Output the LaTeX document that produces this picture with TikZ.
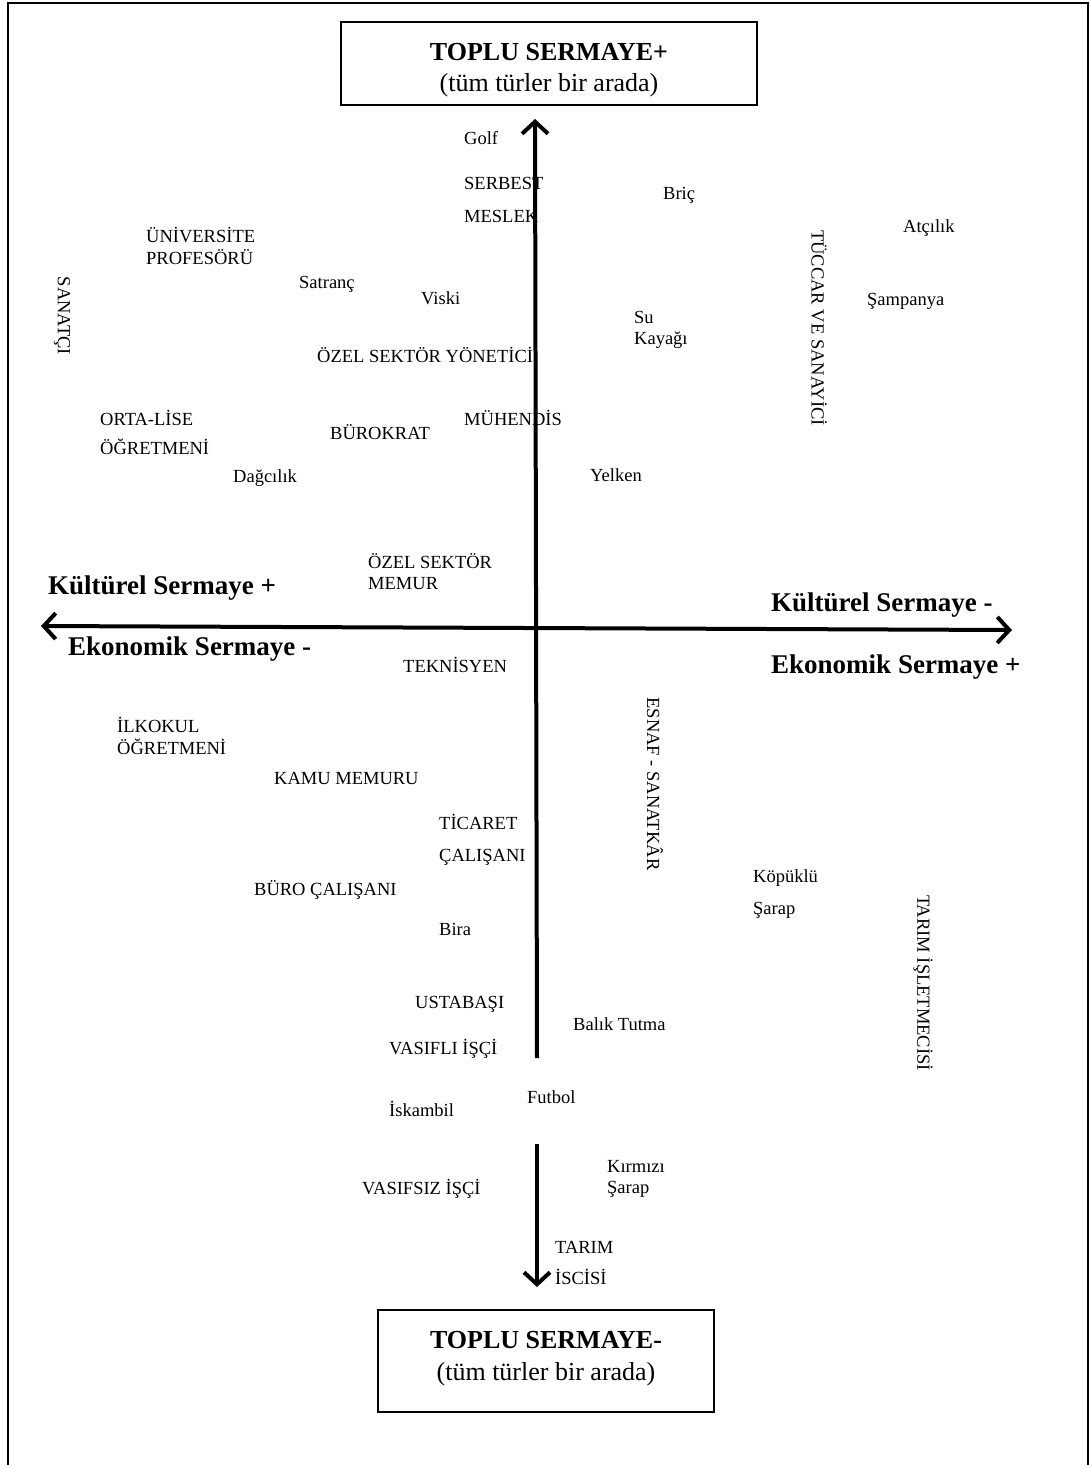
\documentclass[tikz,border=0pt]{standalone}
\usepackage{fontspec}
\setmainfont{Liberation Serif}
\usetikzlibrary{arrows.meta}
\begin{document}
\begin{tikzpicture}[x=1pt,y=-1pt,
  lbl/.style={anchor=base west,inner sep=0pt,font=\fontsize{18.5}{20}\selectfont},
  vlbl/.style={rotate=-90,anchor=center,inner sep=0pt,font=\fontsize{18.5}{20}\selectfont},
  axlbl/.style={anchor=base west,inner sep=0pt,font=\bfseries\fontsize{27}{29}\selectfont},
  ttl/.style={anchor=base,inner sep=0pt,font=\bfseries\fontsize{26}{28}\selectfont},
  sub/.style={anchor=base,inner sep=0pt,font=\fontsize{26}{28}\selectfont},
  tbox/.style={draw,line width=2pt,inner sep=0pt},
  axisline/.style={line width=4pt},
  barb/.tip={Straight Barb[length=12pt,width=26pt,line width=4pt]}
]
\useasboundingbox (0,0) rectangle (1091,1465);
\fill[white] (0,0) rectangle (1091,1465);
% outer frame
\draw[line width=2pt] (8,1465) -- (8,3) -- (1088,3) -- (1088,1465);

% title boxes
\node[tbox,minimum width=416pt,minimum height=83pt] (topbox) at (549,63.5) {};
\node[ttl] (toptitle) at (549,60) {TOPLU SERMAYE+};
\node[sub] (topsub) at (549,91) {(tüm türler bir arada)};
\node[tbox,minimum width=336pt,minimum height=102pt] (botbox) at (546,1361) {};
\node[ttl] (bottitle) at (546,1348) {TOPLU SERMAYE-};
\node[sub] (botsub) at (546,1380) {(tüm türler bir arada)};

% axes
\coordinate (vtop) at (535,119);
\coordinate (vmid) at (537,1058);
\coordinate (vlow) at (537,1144);
\coordinate (vbot) at (537,1287);
\coordinate (hleft) at (41,626);
\coordinate (hright) at (1012,630);
\draw[axisline,-barb] (vmid) -- (vtop);
\draw[axisline,-barb] (vlow) -- (vbot);
\draw[axisline,barb-barb] (hleft) -- (hright);

% axis labels
\node[axlbl] (kplus) at (48,594) {Kültürel Sermaye +};
\node[axlbl] (eminus) at (68,655) {Ekonomik Sermaye -};
\node[axlbl] (kminus) at (771,611) {Kültürel Sermaye -};
\node[axlbl] (eplus) at (771,673) {Ekonomik Sermaye +};

% rotated labels
\node[vlbl] (sanatci) at (62,316) {SANATÇI};
\node[vlbl] (tuccar) at (819,328) {TÜCCAR VE SANAYİCİ};
\node[vlbl] (esnaf) at (655,784) {ESNAF - SANATKÂR};
\node[vlbl] (tarimis) at (923,983) {TARIM İŞLETMECİSİ};

% upper half labels
\node[lbl] (golf) at (464,144) {Golf};
\node[lbl] (serbest) at (464,189) {SERBEST};
\node[lbl] (meslek) at (464,222) {MESLEK};
\node[lbl] (bric) at (663,199) {Briç};
\node[lbl] (univ) at (146,242) {ÜNİVERSİTE};
\node[lbl] (prof) at (146,264) {PROFESÖRÜ};
\node[lbl] (satranc) at (299,288) {Satranç};
\node[lbl] (viski) at (421,304) {Viski};
\node[lbl] (su) at (634,323) {Su};
\node[lbl] (kayagi) at (634,344) {Kayağı};
\node[lbl] (ozelyon) at (317,362) {ÖZEL SEKTÖR YÖNETİCİ};
\node[lbl] (ortalise) at (100,425) {ORTA-LİSE};
\node[lbl] (ogrt1) at (100,454) {ÖĞRETMENİ};
\node[lbl] (burokrat) at (330,439) {BÜROKRAT};
\node[lbl] (muhendis) at (464,425) {MÜHENDİS};
\node[lbl] (dagcilik) at (233,482) {Dağcılık};
\node[lbl] (yelken) at (590,481) {Yelken};
\node[lbl] (atcilik) at (903,232) {Atçılık};
\node[lbl] (sampanya) at (867,305) {Şampanya};
\node[lbl] (ozelsek) at (368,568) {ÖZEL SEKTÖR};
\node[lbl] (memur) at (368,589) {MEMUR};

% lower half labels
\node[lbl] (teknisyen) at (403,672) {TEKNİSYEN};
\node[lbl] (ilkokul) at (117,732) {İLKOKUL};
\node[lbl] (ogrt2) at (117,754) {ÖĞRETMENİ};
\node[lbl] (kamu) at (274,784) {KAMU MEMURU};
\node[lbl] (ticaret) at (439,829) {TİCARET};
\node[lbl] (calisani) at (439,861) {ÇALIŞANI};
\node[lbl] (buro) at (254,895) {BÜRO ÇALIŞANI};
\node[lbl] (bira) at (439,935) {Bira};
\node[lbl] (kopuklu) at (753,882) {Köpüklü};
\node[lbl] (sarap1) at (753,914) {Şarap};
\node[lbl] (ustabasi) at (415,1008) {USTABAŞI};
\node[lbl] (balik) at (573,1030) {Balık Tutma};
\node[lbl] (vasifli) at (389,1054) {VASIFLI İŞÇİ};
\node[lbl] (futbol) at (527,1103) {Futbol};
\node[lbl] (iskambil) at (389,1116) {İskambil};
\node[lbl] (kirmizi) at (607,1172) {Kırmızı};
\node[lbl] (sarap2) at (607,1193) {Şarap};
\node[lbl] (vasifsiz) at (362,1194) {VASIFSIZ İŞÇİ};
\node[lbl] (tarim) at (555,1253) {TARIM};
\node[lbl] (iscisi) at (555,1284) {İSCİSİ};
\end{tikzpicture}
\end{document}
